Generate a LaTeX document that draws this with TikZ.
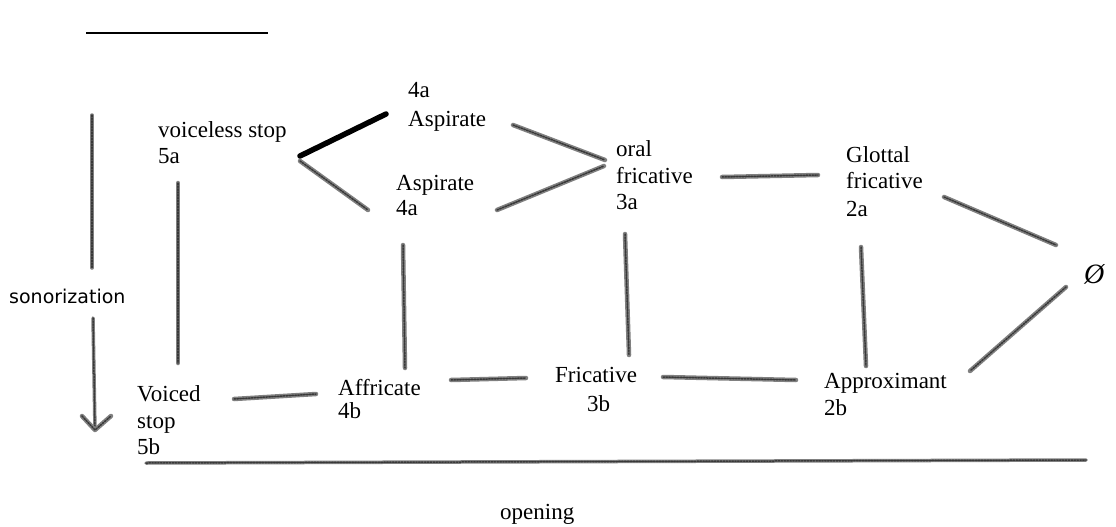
\documentclass[tikz,border=0pt]{standalone}
\usepackage{fontspec}
\setmainfont{Liberation Serif}
\newfontfamily\sonfont{DejaVu Sans}
\begin{document}
\begin{tikzpicture}[x=1pt,y=-1pt,
  lbl/.style={anchor=base west, inner sep=0pt, font=\fontsize{23}{26}\selectfont},
  gline/.style={line width=4.5pt, draw=black!50, line cap=round,
    postaction={draw=black!78, line width=1.5pt, dash pattern=on 1.6pt off 1.3pt}},
  bline/.style={line width=5.5pt, draw=black, line cap=round},
  thin/.style={line width=1.3pt, draw=black}]
\useasboundingbox (0,0) rectangle (1116,527);
\fill[white] (0,0) rectangle (1116,527);

% texts
\node[lbl] (vs1) at (158,137) {voiceless stop};
\node[lbl] (vs2) at (158,163) {5a};
\node[lbl] (at1) at (408,97) {4a};
\node[lbl] (at2) at (408,126) {Aspirate};
\node[lbl] (ab1) at (396,190) {Aspirate};
\node[lbl] (ab2) at (396,215) {4a};
\node[lbl] (of1) at (616,156) {oral};
\node[lbl] (of2) at (616,183) {fricative};
\node[lbl] (of3) at (616,209) {3a};
\node[lbl] (gf1) at (846,162) {Glottal};
\node[lbl] (gf2) at (846,188) {fricative};
\node[lbl] (gf3) at (846,216) {2a};
\node[lbl] (vd1) at (137,401) {Voiced};
\node[lbl] (vd2) at (137,428) {stop};
\node[lbl] (vd3) at (137,454) {5b};
\node[lbl] (af1) at (338,395) {Affricate};
\node[lbl] (af2) at (338,418) {4b};
\node[lbl] (fr1) at (555,382) {Fricative};
\node[lbl] (fr2) at (587,411) {3b};
\node[lbl] (ap1) at (824,388) {Approximant};
\node[lbl] (ap2) at (824,415) {2b};
\node[anchor=base west, inner sep=0pt, font=\fontsize{28}{30}\selectfont\itshape] (zero) at (1084,283) {Ø};
\node[anchor=base west, inner sep=0pt, font=\sonfont\fontsize{19}{22}\selectfont] (son) at (9,303) {sonorization};
\node[lbl] (open) at (500,519) {opening};

% endpoints
\coordinate (k1) at (300,156); \coordinate (k2) at (386,114);
\coordinate (g2a) at (300,161); \coordinate (g2b) at (368,210);
\coordinate (g3a) at (513,125); \coordinate (g3b) at (605,160);
\coordinate (g4a) at (497,210); \coordinate (g4b) at (604,166);
\coordinate (g5a) at (722,177); \coordinate (g5b) at (818,175);
\coordinate (g6a) at (944,197); \coordinate (g6b) at (1056,245);
\coordinate (g7a) at (1066,287); \coordinate (g7b) at (970,371);
\coordinate (v1a) at (178,183); \coordinate (v1b) at (178,363);
\coordinate (v2a) at (403,245); \coordinate (v2b) at (405,368);
\coordinate (v3a) at (625,234); \coordinate (v3b) at (629,355);
\coordinate (v4a) at (861,247); \coordinate (v4b) at (866,366);
\coordinate (h1a) at (234,399); \coordinate (h1b) at (316,394);
\coordinate (h2a) at (451,380); \coordinate (h2b) at (526,378);
\coordinate (h3a) at (663,377); \coordinate (h3b) at (796,380);
\coordinate (ba) at (146,463); \coordinate (bb) at (1086,460);
\coordinate (s1) at (92,115); \coordinate (s2) at (92,268);
\coordinate (s3) at (93,318); \coordinate (tip) at (95,430);
\coordinate (tl) at (82,416); \coordinate (tr) at (111,416);
\coordinate (ta) at (86,33); \coordinate (tb) at (268,33);

% connectors
\draw[bline] (k1) -- (k2);
\draw[gline] (g2a) -- (g2b);
\draw[gline] (g3a) -- (g3b);
\draw[gline] (g4a) -- (g4b);
\draw[gline] (g5a) -- (g5b);
\draw[gline] (g6a) -- (g6b);
\draw[gline] (g7a) -- (g7b);
\draw[gline] (v1a) -- (v1b);
\draw[gline] (v2a) -- (v2b);
\draw[gline] (v3a) -- (v3b);
\draw[gline] (v4a) -- (v4b);
\draw[gline] (h1a) -- (h1b);
\draw[gline] (h2a) -- (h2b);
\draw[gline] (h3a) -- (h3b);
\draw[gline, line width=3.5pt] (ba) -- (bb);
\draw[gline, line width=3.5pt] (s1) -- (s2);
\draw[gline, line width=3.5pt] (s3) -- (tip);
\draw[gline, line width=4.5pt, line join=round] (tl) -- (tip) -- (tr);
\draw[thin] (ta) -- (tb);
\end{tikzpicture}
\end{document}
